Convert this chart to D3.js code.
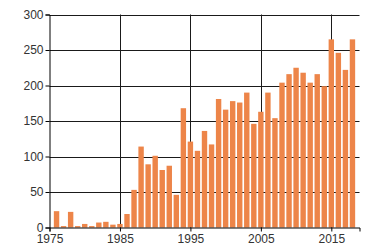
<!DOCTYPE html>
<html><head><meta charset="utf-8">
<script src="https://cdn.jsdelivr.net/npm/d3@7"></script>
<style>body{margin:0;background:#fff}svg{display:block}text{font-family:"Liberation Sans",Arial,sans-serif;font-size:12px;fill:#333}</style>
</head><body>
<svg id="c" width="370" height="252"></svg>
<script>
const years = d3.range(1976, 2019);
const values = [23, 2, 22, 2, 5, 2, 7, 8, 4, 5, 19, 53, 114, 89, 101, 81, 87, 46, 168, 121, 108, 136, 117, 181, 166, 178, 176, 190, 146, 163, 190, 154, 204, 216, 225, 218, 204, 216, 199, 265, 246, 222, 265];
const xTicks = [1975, 1985, 1995, 2005, 2015];
const yTicks = [0, 50, 100, 150, 200, 250, 300];

const svg = d3.select("#c");
const x = d3.scaleLinear().domain([1975, 2019]).range([49.5, 359.5]);
const y = d3.scaleLinear().domain([0, 300]).range([227.5, 14.5]);

// gridlines
svg.append("g").selectAll("line").data(yTicks.slice(1)).join("line")
  .attr("x1", 49.5).attr("x2", 359.5).attr("y1", d => Math.round(y(d)) + 0.5).attr("y2", d => Math.round(y(d)) + 0.5)
  .attr("stroke", "#1a1a1a").attr("stroke-width", 1);
svg.append("g").selectAll("line").data(xTicks.slice(1)).join("line")
  .attr("x1", d => Math.round(x(d)) + 0.5).attr("x2", d => Math.round(x(d)) + 0.5).attr("y1", 14.5).attr("y2", 227.5)
  .attr("stroke", "#1a1a1a").attr("stroke-width", 1);

// bars
const bw = 5.4;
svg.append("g").selectAll("rect").data(years).join("rect")
  .attr("x", d => x(d) - bw / 2).attr("width", bw)
  .attr("y", (d, i) => y(values[i])).attr("height", (d, i) => y(0) - y(values[i]))
  .attr("fill", "#ED8549");

// axes
const xa = svg.append("g").attr("transform", "translate(0,227.5)")
  .call(d3.axisBottom(x).tickValues(xTicks).tickFormat(d3.format("d")).tickSize(4).tickPadding(3));
const ya = svg.append("g").attr("transform", "translate(49.5,0)")
  .call(d3.axisLeft(y).tickValues(yTicks).tickSize(4).tickPadding(2));
[xa, ya].forEach(g => {
  g.select(".domain").attr("stroke", "#000");
  g.selectAll(".tick line").attr("stroke", "#000");
  g.selectAll("text").attr("font-family", '"Liberation Sans",Arial,sans-serif').attr("font-size", 12).attr("fill", "#333");
});
ya.selectAll("text").attr("dy", "0.3em");
</script>
</body></html>
